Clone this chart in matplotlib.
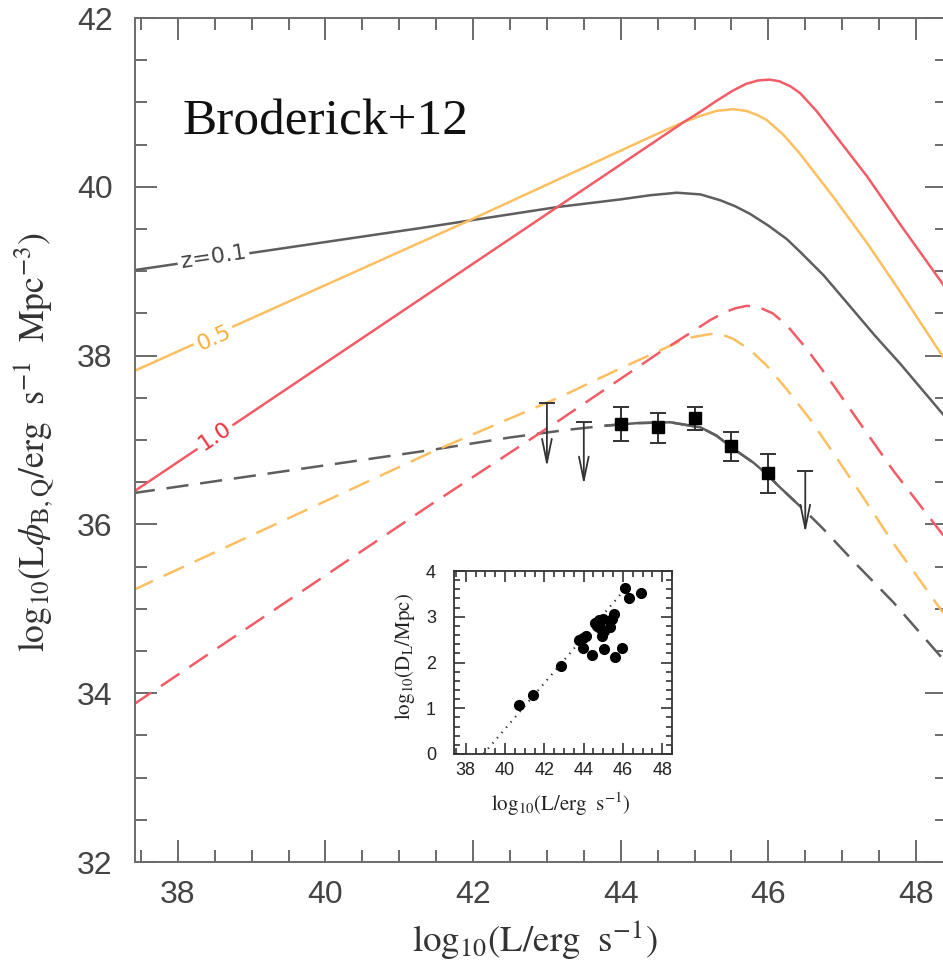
import numpy as np
import matplotlib
matplotlib.use("Agg")
import matplotlib.pyplot as plt
from matplotlib.ticker import MultipleLocator

plt.rcParams['font.family'] = ['Liberation Sans', 'DejaVu Sans']
plt.rcParams['mathtext.fontset'] = 'stix'
plt.rcParams['lines.scale_dashes'] = False

# model curves (log10 L, log10 L*phi)
z01_x = [37.39, 41.28, 43.14, 43.99, 44.40, 44.76, 45.08, 45.35, 45.55, 45.75, 46.00, 46.25,
         46.43, 46.75, 47.11, 47.45, 47.79, 48.37]
z01_y = [39.01, 39.51, 39.76, 39.85, 39.90, 39.93, 39.91, 39.84, 39.77, 39.68, 39.54, 39.38,
         39.23, 38.95, 38.58, 38.23, 37.90, 37.30]

z05_x = [37.39, 41.92, 44.50, 44.86, 45.08, 45.30, 45.52, 45.70, 45.85, 45.98, 46.20, 46.43,
         46.65, 46.88, 47.34, 47.79, 48.37]
z05_y = [37.81, 39.59, 40.63, 40.77, 40.84, 40.90, 40.92, 40.90, 40.85, 40.79, 40.62, 40.39,
         40.14, 39.88, 39.33, 38.75, 37.98]

z10_x = [37.39, 44.86, 45.08, 45.30, 45.52, 45.70, 45.86, 46.02, 46.15, 46.30, 46.43, 46.65,
         46.88, 47.34, 47.79, 48.37]
z10_y = [36.38, 40.77, 40.89, 41.02, 41.14, 41.22, 41.26, 41.27, 41.25, 41.19, 41.11, 40.90,
         40.64, 40.12, 39.55, 38.84]

# dashed curves (B,Q population)
bq01_x = [37.39, 41.42, 42.50, 43.27, 43.80, 44.22, 44.67, 45.08, 45.30, 45.52, 45.80, 46.00,
          46.12, 46.35, 46.51, 46.74, 47.20, 47.69, 48.40]
bq01_y = [36.37, 36.88, 37.03, 37.12, 37.17, 37.20, 37.21, 37.15, 37.05, 36.90, 36.73, 36.58,
          36.47, 36.28, 36.15, 35.95, 35.52, 35.08, 34.37]

bq05_x = [37.39, 41.42, 43.18, 44.00, 44.53, 44.80, 44.98, 45.25, 45.40, 45.52, 45.75, 45.98,
          46.25, 46.57, 46.90, 47.24, 47.69, 48.37]
bq05_y = [35.22, 36.85, 37.51, 37.85, 38.06, 38.17, 38.22, 38.26, 38.24, 38.20, 38.07, 37.88,
          37.60, 37.24, 36.82, 36.38, 35.78, 34.95]

bq10_x = [37.39, 41.42, 43.18, 44.53, 45.00, 45.21, 45.40, 45.55, 45.71, 45.88, 46.06, 46.25,
          46.50, 46.80, 47.24, 47.69, 48.37]
bq10_y = [33.86, 36.23, 37.24, 38.04, 38.30, 38.42, 38.51, 38.56, 38.59, 38.57, 38.50, 38.36,
          38.10, 37.75, 37.20, 36.64, 35.87]

# measured points
obs_x = [44.0, 44.5, 45.0, 45.5, 46.0]
obs_y = [37.19, 37.15, 37.26, 36.93, 36.61]
obs_lo = [0.20, 0.19, 0.14, 0.18, 0.24]
obs_hi = [0.20, 0.17, 0.13, 0.16, 0.22]

lim_x = [43.0, 43.5, 46.5]
lim_top = [37.44, 37.21, 36.63]
lim_tip = [36.68, 36.47, 35.90]

# inset: distance vs luminosity
src_L = [40.73, 41.44, 42.86, 43.74, 43.97, 44.13, 43.97, 44.43, 44.59, 44.76, 44.85, 44.98,
         45.05, 44.93, 45.36, 45.44, 45.56, 45.05, 45.58, 45.97, 46.13, 46.32, 46.90, 44.70]
src_D = [1.08, 1.28, 1.93, 2.50, 2.54, 2.57, 2.32, 2.16, 2.87, 2.92, 2.75, 2.96,
         2.68, 2.59, 2.77, 2.96, 3.05, 2.30, 2.12, 2.32, 3.62, 3.40, 3.51, 2.80]
flux_lim_L = [38.9, 46.3]
flux_lim_D = [0.0, 3.7]

GRAY = '#5e5e5e'
RED = '#f25c66'
ORANGE = '#fdbf60'
AXC = '#6a6a6a'
W, H = 943, 961

fig = plt.figure(figsize=(W / 100, H / 100), dpi=100)
ax = fig.add_axes([135 / W, 99 / H, 812 / W, 844 / H])

lw = 1.8
dash = (0, (16, 8.5))
ax.plot(z01_x, z01_y, color=GRAY, lw=lw)
ax.plot(z05_x, z05_y, color=ORANGE, lw=lw)
ax.plot(z10_x, z10_y, color=RED, lw=lw)
ax.plot(bq01_x, bq01_y, color=GRAY, lw=lw, ls=dash)
ax.plot(bq05_x, bq05_y, color=ORANGE, lw=lw, ls=dash)
ax.plot(bq10_x, bq10_y, color=RED, lw=lw, ls=dash)

# solid part of the fit over the data range
bx = np.array(bq01_x)
by = np.array(bq01_y)
m = (bx >= 43.8) & (bx <= 46.35)
ax.plot(bx[m], by[m], color=GRAY, lw=lw)

box = dict(boxstyle='square,pad=0.15', fc='white', ec='none')
ax.text(38.48, 39.17, 'z=0.1', color='#444444', fontsize=16, rotation=8.5,
        ha='center', va='center', bbox=box, family='DejaVu Sans')
ax.text(38.49, 38.21, '0.5', color='#f8b040', fontsize=16, rotation=24.5,
        ha='center', va='center', bbox=box, family='DejaVu Sans')
ax.text(38.50, 37.04, '1.0', color='#e8303a', fontsize=16, rotation=34,
        ha='center', va='center', bbox=box, family='DejaVu Sans')

ax.errorbar(obs_x, obs_y, yerr=[obs_lo, obs_hi], fmt='s', color='black', ms=8,
            ecolor='#333333', elinewidth=1.4, capsize=5.5, capthick=1.4, zorder=5)
for x, top, tip in zip(lim_x, lim_top, lim_tip):
    ax.annotate('', xy=(x, tip), xytext=(x, top),
                arrowprops=dict(arrowstyle='->,head_length=1.7,head_width=0.35',
                                color='#333333', lw=1.3, shrinkA=0, shrinkB=0), zorder=5)
ax.plot(lim_x, lim_top, ls='none', marker='_', ms=11, mew=1.4, color='#333333', zorder=5)

ax.text(38.06, 40.76, 'Broderick+12', fontsize=37, family='Liberation Serif',
        ha='left', va='center', color='#111111')

ax.set_xlim(37.42, 48.42)
ax.set_ylim(32, 42)
ax.xaxis.set_major_locator(MultipleLocator(2))
ax.xaxis.set_minor_locator(MultipleLocator(0.5))
ax.yaxis.set_major_locator(MultipleLocator(2))
ax.yaxis.set_minor_locator(MultipleLocator(0.5))
ax.tick_params(which='both', direction='in', top=True, right=True, color=AXC, width=1.4)
ax.tick_params(which='major', length=16, labelsize=23, labelcolor='#444444')
ax.tick_params(which='minor', length=8.5)
ax.tick_params(axis='y', which='major', pad=16)
ax.tick_params(axis='x', which='major', pad=13)
for s in ax.spines.values():
    s.set_color(AXC)
    s.set_linewidth(1.4)

ax.set_xlabel(r'$\mathrm{log_{10}(L/erg\ \ s^{-1})}$', fontsize=25, color='#333333')
ax.set_ylabel(r'$\mathrm{log_{10}(L}\phi_{\mathrm{B,Q}}\mathrm{/erg\ \ s^{-1}\ \ Mpc^{-3})}$',
              fontsize=22, color='#333333')

# inset
ins = fig.add_axes([454 / W, 207 / H, 218 / W, 183 / H])
ins.plot(flux_lim_L, flux_lim_D, color='#333333', lw=1.5, ls=(0, (1, 4)))
ins.plot(src_L, src_D, 'o', color='black', ms=7)
ins.set_xlim(37.4, 48.5)
ins.set_ylim(0, 4)
ins.xaxis.set_major_locator(MultipleLocator(2))
ins.xaxis.set_minor_locator(MultipleLocator(0.5))
ins.yaxis.set_major_locator(MultipleLocator(1))
ins.yaxis.set_minor_locator(MultipleLocator(0.2))
ins.tick_params(which='both', direction='in', top=True, right=True, color='#333333', width=1.2)
ins.tick_params(which='major', length=8, labelsize=13, labelcolor='#222222')
ins.tick_params(which='minor', length=4)
ins.tick_params(axis='y', which='major', pad=13)
ins.tick_params(axis='x', which='major', pad=6)
for s in ins.spines.values():
    s.set_color('#333333')
    s.set_linewidth(1.3)
ins.set_xlabel(r'$\mathrm{log_{10}(L/erg\ \ s^{-1})}$', fontsize=15, color='#222222')
ins.set_ylabel(r'$\mathrm{log_{10}(D_L/Mpc)}$', fontsize=15, color='#222222')
ins.xaxis.set_label_coords(0.49, -0.2)
ins.yaxis.set_label_coords(-0.17, 0.53)


def fit_label(label, axis, span, cross, vertical):
    # size the label to the pixel span it covers in the picture, then put it there
    fig.canvas.draw()
    bb = label.get_window_extent()
    size = bb.height if vertical else bb.width
    label.set_fontsize(label.get_fontsize() * (span[1] - span[0]) / size)
    fig.canvas.draw()
    bb = label.get_window_extent()
    pos = ax.bbox
    if vertical:
        cy = H - (span[0] + span[1]) / 2
        axis.set_label_coords((cross - pos.x0) / pos.width, (cy - pos.y0) / pos.height)
    else:
        cx = (span[0] + span[1]) / 2
        axis.set_label_coords((cx - pos.x0) / pos.width, (H - cross - pos.y0) / pos.height)


fit_label(ax.xaxis.label, ax.xaxis, (412, 658), 918, False)
fit_label(ax.yaxis.label, ax.yaxis, (233, 652), 57, True)

fig.savefig('out.png', dpi=100)
